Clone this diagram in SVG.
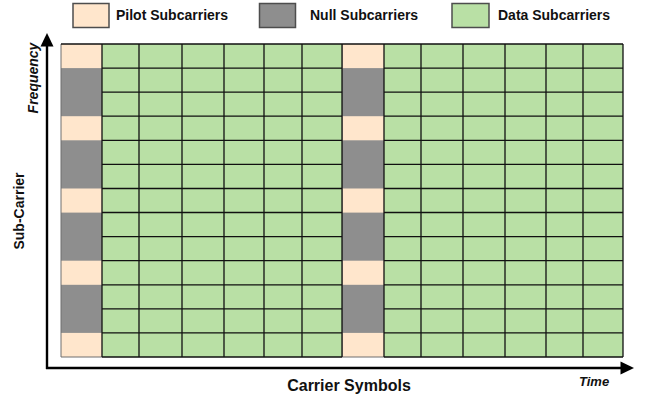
<svg xmlns="http://www.w3.org/2000/svg" width="646" height="398" viewBox="0 0 646 398">
  <style>
    .lbl { font-family: "Liberation Sans", Arial, sans-serif; font-weight: bold; fill: #111; }
    .legend-box { stroke: #4d4d4d; stroke-width: 1.5; }
    .pilot { fill: #ffe6cc; }
    .null { fill: #8e8e8e; }
    .data { fill: #b9e0a5; }
    .grid { fill: none; stroke: #111; stroke-width: 1.3; }
    .edge { fill: none; stroke: #6e6e6e; stroke-width: 1; }
    .axis { fill: none; stroke: #000; stroke-width: 2.4; }
    .head { fill: #000; }
  </style>

  <!-- Legend -->
  <g id="legend-pilot">
    <rect class="legend-box pilot" x="73" y="3.5" width="36" height="24"/>
    <text class="lbl" x="116" y="19.5" font-size="14">Pilot Subcarriers</text>
  </g>
  <g id="legend-null">
    <rect class="legend-box null" x="259.5" y="3.5" width="36" height="24"/>
    <text class="lbl" x="310" y="19.5" font-size="14">Null Subcarriers</text>
  </g>
  <g id="legend-data">
    <rect class="legend-box data" x="452" y="3.5" width="37" height="24"/>
    <text class="lbl" x="498" y="19.5" font-size="14">Data Subcarriers</text>
  </g>

  <!-- Pilot / null column at the first symbol -->
  <g id="special-column-1">
    <rect class="null" x="61" y="44" width="41" height="313"/>
    <rect class="pilot" x="61" y="44" width="41" height="24.1"/>
    <rect class="pilot" x="61" y="116.2" width="41" height="24.1"/>
    <rect class="pilot" x="61" y="188.5" width="41" height="24.1"/>
    <rect class="pilot" x="61" y="260.7" width="41" height="24.1"/>
    <rect class="pilot" x="61" y="332.9" width="41" height="24.1"/>
    <path class="edge" d="M61,44 V357 H102"/>
  </g>

  <!-- Pilot / null column at the eighth symbol -->
  <g id="special-column-2">
    <rect class="null" x="342" y="44" width="42" height="313"/>
    <rect class="pilot" x="342" y="44" width="42" height="24.1"/>
    <rect class="pilot" x="342" y="116.2" width="42" height="24.1"/>
    <rect class="pilot" x="342" y="188.5" width="42" height="24.1"/>
    <rect class="pilot" x="342" y="260.7" width="42" height="24.1"/>
    <rect class="pilot" x="342" y="332.9" width="42" height="24.1"/>
    <path class="edge" d="M342,44 V357 H384"/>
  </g>

  <!-- Data subcarrier blocks -->
  <g id="data-block-1">
    <rect class="data" x="102" y="44" width="240" height="313"/>
    <path class="grid" d="M102,44 V357 M139,44 V357 M182,44 V357 M224,44 V357 M264,44 V357 M302,44 V357 M342,44 V357
      M102,68.1 H342 M102,92.2 H342 M102,116.2 H342 M102,140.3 H342 M102,164.4 H342 M102,188.5 H342
      M102,212.5 H342 M102,236.6 H342 M102,260.7 H342 M102,284.8 H342 M102,308.8 H342 M102,332.9 H342 M102,357 H342"/>
  </g>
  <g id="data-block-2">
    <rect class="data" x="384" y="44" width="239" height="313"/>
    <path class="grid" d="M384,44 V357 M421,44 V357 M463,44 V357 M505,44 V357 M546,44 V357 M583,44 V357 M623,44 V357
      M384,68.1 H623 M384,92.2 H623 M384,116.2 H623 M384,140.3 H623 M384,164.4 H623 M384,188.5 H623
      M384,212.5 H623 M384,236.6 H623 M384,260.7 H623 M384,284.8 H623 M384,308.8 H623 M384,332.9 H623 M384,357 H623"/>
  </g>
  <path class="grid" d="M61,44 H623"/>

  <!-- Axes -->
  <g id="connectors">
    <path class="axis" d="M47,369 V45"/>
    <path class="head" d="M47,33 L53.5,46.5 L40.5,46.5 Z"/>
    <path class="axis" d="M46,368 H622"/>
    <path class="head" d="M634,368 L620.5,361.5 L620.5,374.5 Z"/>
  </g>

  <!-- Axis labels -->
  <text class="lbl" font-size="14" font-style="italic" text-anchor="middle" transform="translate(38,78) rotate(-90)">Frequency</text>
  <text class="lbl" font-size="14" text-anchor="middle" transform="translate(24,211) rotate(-90)">Sub-Carrier</text>
  <text class="lbl" font-size="16" text-anchor="middle" x="349" y="390.5">Carrier Symbols</text>
  <text class="lbl" font-size="13" font-style="italic" x="579" y="386">Time</text>
</svg>
